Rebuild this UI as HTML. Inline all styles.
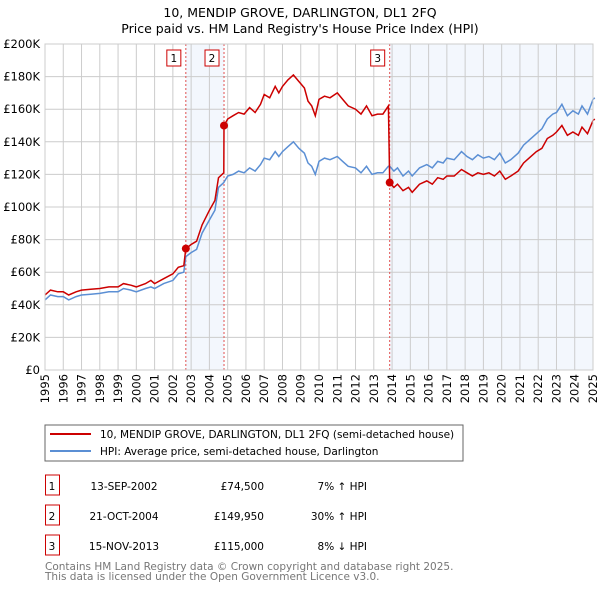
<!DOCTYPE html>
<html><head><meta charset="utf-8"><style>
body{margin:0;background:#fff;font-family:"DejaVu Sans","Liberation Sans",sans-serif;}
svg text{font-family:"DejaVu Sans","Liberation Sans",sans-serif;}
</style></head><body>
<svg id="chart" width="600" height="590" xmlns="http://www.w3.org/2000/svg">
<text x="300" y="17" text-anchor="middle" font-size="12.5">10, MENDIP GROVE, DARLINGTON, DL1 2FQ</text>
<text x="300" y="33" text-anchor="middle" font-size="12.5">Price paid vs. HM Land Registry's House Price Index (HPI)</text>
<g id="plot"></g>
<rect x="45" y="425" width="418" height="36" fill="none" stroke="#666"/>
<line x1="50" y1="434" x2="91" y2="434" stroke="#cc0000" stroke-width="2"/>
<text x="100" y="438" font-size="10.5">10, MENDIP GROVE, DARLINGTON, DL1 2FQ (semi-detached house)</text>
<line x1="50" y1="451" x2="91" y2="451" stroke="#5b8fd4" stroke-width="2"/>
<text x="100" y="455" font-size="10.5">HPI: Average price, semi-detached house, Darlington</text>
<g id="table" font-size="10.5"></g>
<text x="45" y="570" font-size="10.5" fill="#777">Contains HM Land Registry data © Crown copyright and database right 2025.</text>
<text x="45" y="580" font-size="10.5" fill="#777">This data is licensed under the Open Government Licence v3.0.</text>
</svg>
<script>
const dates=[1995.0,1995.3,1995.7,1996.0,1996.3,1996.7,1997.0,1997.5,1998.0,1998.5,1999.0,1999.3,1999.7,2000.0,2000.5,2000.8,2001.0,2001.5,2002.0,2002.3,2002.6,2002.71,2003.0,2003.3,2003.6,2004.0,2004.3,2004.5,2004.79,2004.8,2005.0,2005.3,2005.6,2005.9,2006.2,2006.5,2006.8,2007.0,2007.3,2007.6,2007.8,2008.0,2008.3,2008.6,2008.9,2009.2,2009.4,2009.6,2009.8,2010.0,2010.3,2010.6,2011.0,2011.3,2011.6,2012.0,2012.3,2012.6,2012.9,2013.2,2013.5,2013.8,2013.87,2014.1,2014.3,2014.6,2014.9,2015.1,2015.5,2015.9,2016.2,2016.5,2016.8,2017.0,2017.4,2017.8,2018.1,2018.4,2018.7,2019.0,2019.3,2019.6,2019.9,2020.2,2020.5,2020.9,2021.2,2021.5,2021.9,2022.2,2022.5,2022.8,2023.0,2023.3,2023.6,2023.9,2024.2,2024.4,2024.7,2025.0,2025.1];
const hpi=[43,46,45,45,43,45,46,46.5,47,48,48,50,49,48,50,51,50,53,55,59,60,69.6,72,74,84,92,98,112,115,115.3,119,120,122,121,124,122,126,130,129,134,131,134,137,140,136,133,127,125,120,128,130,129,131,128,125,124,121,125,120,121,121,125,125,122,124,119,122,119,124,126,124,128,127,130,129,134,131,129,132,130,131,129,133,127,129,133,138,141,145,148,154,157,158,163,156,159,157,162,157,166,167];
const price=[46,49,48,48,46,48,49,49.5,50,51,51,53,52,51,53,55,53,56,59,63,64,74.5,77,79,89,98,104,118,121,149.95,154,156,158,157,161,158,163,169,167,174,170,174,178,181,177,173,165,162,156,166,168,167,170,166,162,160,157,162,156,157,157,162,115,112,114,110,112,109,114,116,114,118,117,119,119,123,121,119,121,120,121,119,122,117,119,122,127,130,134,136,142,144,146,150,144,146,144,149,145,153,154];
const saleDates=[2002.71,2004.8,2013.87];
const saleValues=[74.5,149.95,115];
const saleLabels=["1","2","3"];
const yTicks=[0,20,40,60,80,100,120,140,160,180,200];
const yTickLabels=["£0","£20K","£40K","£60K","£80K","£100K","£120K","£140K","£160K","£180K","£200K"];
const xYears=[1995,1996,1997,1998,1999,2000,2001,2002,2003,2004,2005,2006,2007,2008,2009,2010,2011,2012,2013,2014,2015,2016,2017,2018,2019,2020,2021,2022,2023,2024,2025];
const rowDates=["13-SEP-2002","21-OCT-2004","15-NOV-2013"];
const rowPrices=["£74,500","£149,950","£115,000"];
const rowHpi=["7% ↑ HPI","30% ↑ HPI","8% ↓ HPI"];

const X0=45,X1=593,Y0=370,Y1=44;
const xs=d=>X0+(d-1995)/30*(X1-X0);
const ys=v=>Y0-v/200*(Y0-Y1);
const NS="http://www.w3.org/2000/svg";
const plot=document.getElementById('plot');
function mk(tag,attrs,parent){const e=document.createElementNS(NS,tag);for(const k in attrs)e.setAttribute(k,attrs[k]);(parent||plot).appendChild(e);return e;}

let r=mk('rect',{x:xs(saleDates[0]),y:Y1,width:xs(saleDates[1])-xs(saleDates[0]),height:Y0-Y1,fill:'#eef3fc',opacity:0.7});


r=mk('rect',{x:xs(saleDates[2]),y:Y1,width:X1-xs(saleDates[2]),height:Y0-Y1,fill:'#eef3fc',opacity:0.7});



yTicks.forEach((v,i)=>{
  const l=mk('line',{x1:X0,x2:X1,y1:ys(v),y2:ys(v),stroke:'#ccc','stroke-width':1});
  
  
  const t=mk('text',{x:40,y:ys(v)+4,'text-anchor':'end','font-size':11.5});
  t.textContent=yTickLabels[i];
  
  
});
xYears.forEach(y=>{
  const l=mk('line',{x1:xs(y),x2:xs(y),y1:Y1,y2:Y0,stroke:'#ccc','stroke-width':1});
  
  
  const t=mk('text',{x:0,y:0,'text-anchor':'end','font-size':11.5,transform:`translate(${xs(y)+4},374) rotate(-90)`});
  t.textContent=y;
  
  
});
saleDates.forEach((d,i)=>{
  const l=mk('line',{x1:xs(d),x2:xs(d),y1:Y1,y2:Y0,stroke:'#e05050','stroke-width':1,'stroke-dasharray':'2,2'});
  
  
  const b=mk('rect',{x:xs(d)-19,y:50,width:14,height:16,fill:'#fff',stroke:'#cc0000'});
  
  
  const t=mk('text',{x:xs(d)-12,y:62,'text-anchor':'middle','font-size':10.5});
  t.textContent=saleLabels[i];
  
  
});
const pts=a=>a.map((v,i)=>xs(dates[i]).toFixed(1)+','+ys(v).toFixed(1)).join(' ');
let p=mk('polyline',{points:pts(hpi),fill:'none',stroke:'#5b8fd4','stroke-width':1.5});


p=mk('polyline',{points:pts(price),fill:'none',stroke:'#cc0000','stroke-width':1.5});


saleDates.forEach((d,i)=>{
  const c=mk('circle',{cx:xs(d),cy:ys(saleValues[i]),r:4,fill:'#cc0000'});
  
  
});
let fr=mk('rect',{x:X0,y:Y1,width:X1-X0,height:Y0-Y1,fill:'none',stroke:'#ccc'});



const tb=document.getElementById('table');
rowDates.forEach((d,i)=>{
  const y=486+i*30;
  const b=mk('rect',{x:45.5,y:y-11,width:14,height:20,fill:'none',stroke:'#cc0000'},tb);
  
  
  const cells=[[52,'middle',saleLabels[i]],[124,'middle',d],[264,'end',rowPrices[i]],[367,'end',rowHpi[i]]];
  cells.forEach(c=>{
    const t=mk('text',{x:c[0],y:y+4,'text-anchor':c[1]},tb);
    t.textContent=c[2];
    
    
  });
});
</script>
</body></html>
